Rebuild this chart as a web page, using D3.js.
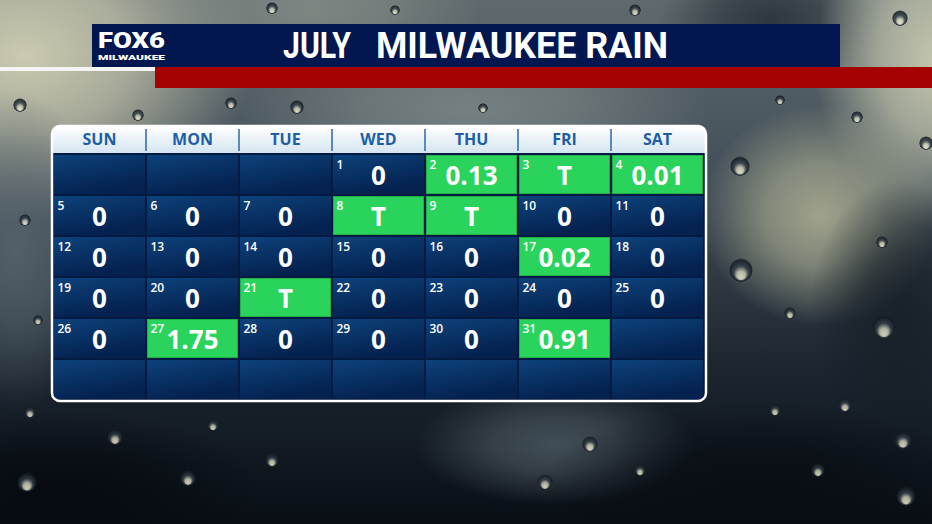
<!DOCTYPE html>
<html>
<head>
<meta charset="utf-8">
<script src="https://cdn.jsdelivr.net/npm/d3@7"></script>
<style>
  html, body { margin: 0; padding: 0; background: #1a232c; }
  svg { display: block; }
</style>
</head>
<body>
<svg id="chart" width="932" height="524"></svg>
<script>
// chart data
let monthName = "JULY";
let cityTitle = "MILWAUKEE RAIN";
let weekDays = ["SUN", "MON", "TUE", "WED", "THU", "FRI", "SAT"];
let firstWeekday = 3; // July 1 falls on WED
let weekRows = [0, 1, 2, 3, 4, 5];
let dayNumbers = d3.range(1, 32);
let rainValues = ["0", "0.13", "T", "0.01", "0", "0", "0", "T", "T", "0",
                  "0", "0", "0", "0", "0", "0", "0.02", "0", "0", "0",
                  "T", "0", "0", "0", "0", "0", "1.75", "0", "0", "0", "0.91"];

let width = 932;
let height = 524;
let navyColor = "#02174f";
let redColor = "#a50303";
let greenColor = "#2ad35b";
let headerTextColor = "#1d5ea6";
let font = "'Open Sans', 'DejaVu Sans', sans-serif";

let svg = d3.select("#chart");
let defs = svg.append("defs");

// ---- background (blurred rainy window) ----
let bgGrad = defs.append("linearGradient").attr("id", "bgGrad")
  .attr("x1", 0).attr("y1", 0).attr("x2", 0).attr("y2", 1);
bgGrad.append("stop").attr("offset", "0%").attr("stop-color", "#5f6a6e");
bgGrad.append("stop").attr("offset", "35%").attr("stop-color", "#424e58");
bgGrad.append("stop").attr("offset", "70%").attr("stop-color", "#1c2630");
bgGrad.append("stop").attr("offset", "100%").attr("stop-color", "#090e15");

svg.append("rect")
  .attr("width", width).attr("height", height)
  .style("fill", "url(#bgGrad)");

let blobs = [
  {cx: 25, cy: 55, rx: 230, ry: 170, c: "#cbcab0", o: 1},
  {cx: 310, cy: 10, rx: 170, ry: 80, c: "#8c938b", o: 0.7},
  {cx: 470, cy: 110, rx: 240, ry: 90, c: "#86918f", o: 0.7},
  {cx: 770, cy: 20, rx: 110, ry: 70, c: "#232b33", o: 0.8},
  {cx: 935, cy: 60, rx: 120, ry: 170, c: "#c3c5ad", o: 1},
  {cx: 820, cy: 215, rx: 120, ry: 110, c: "#a5a88f", o: 0.95},
  {cx: 900, cy: 310, rx: 90, ry: 130, c: "#151d25", o: 0.8},
  {cx: 15, cy: 250, rx: 90, ry: 160, c: "#5a6870", o: 0.8},
  {cx: 555, cy: 445, rx: 140, ry: 60, c: "#4e5b64", o: 0.8},
  {cx: 60, cy: 490, rx: 200, ry: 80, c: "#05090e", o: 0.8},
  {cx: 760, cy: 490, rx: 220, ry: 90, c: "#080c12", o: 0.8}
];

let blobGrads = defs.selectAll(".blobGrad")
  .data(blobs)
  .enter()
  .append("radialGradient")
    .attr("id", (d, i) => "blob" + i);
blobGrads.append("stop").attr("offset", "0%")
  .attr("stop-color", d => d.c).attr("stop-opacity", d => d.o);
blobGrads.append("stop").attr("offset", "45%")
  .attr("stop-color", d => d.c).attr("stop-opacity", d => d.o * 0.7);
blobGrads.append("stop").attr("offset", "100%")
  .attr("stop-color", d => d.c).attr("stop-opacity", 0);

svg.append("g")
  .selectAll("ellipse")
  .data(blobs)
  .enter()
  .append("ellipse")
    .attr("cx", d => d.cx).attr("cy", d => d.cy)
    .attr("rx", d => d.rx).attr("ry", d => d.ry)
    .style("fill", (d, i) => "url(#blob" + i + ")");

// a few rain drops on the glass
let dropGrad = defs.append("radialGradient").attr("id", "dropGrad")
  .attr("cx", 0.5).attr("cy", 0.5).attr("r", 0.5)
  .attr("fx", 0.5).attr("fy", 0.85);
dropGrad.append("stop").attr("offset", "0%").attr("stop-color", "#f3f1d6");
dropGrad.append("stop").attr("offset", "35%").attr("stop-color", "#c9c9b2");
dropGrad.append("stop").attr("offset", "60%").attr("stop-color", "#35404a");
dropGrad.append("stop").attr("offset", "90%").attr("stop-color", "#141b22");
dropGrad.append("stop").attr("offset", "100%").attr("stop-color", "#141b22").attr("stop-opacity", 0);

let drops = [
  {x: 740, y: 166, r: 10}, {x: 741, y: 270, r: 12}, {x: 884, y: 327, r: 12},
  {x: 790, y: 313, r: 6}, {x: 900, y: 18, r: 8}, {x: 926, y: 143, r: 7},
  {x: 857, y: 117, r: 6}, {x: 882, y: 242, r: 6}, {x: 903, y: 440, r: 9},
  {x: 906, y: 496, r: 10}, {x: 818, y: 470, r: 7}, {x: 775, y: 410, r: 6},
  {x: 845, y: 405, r: 7}, {x: 27, y: 482, r: 10}, {x: 115, y: 437, r: 8},
  {x: 188, y: 478, r: 8}, {x: 272, y: 460, r: 7}, {x: 213, y: 425, r: 6},
  {x: 590, y: 444, r: 8}, {x: 545, y: 482, r: 8},
  {x: 640, y: 470, r: 6}, {x: 30, y: 412, r: 6}, {x: 20, y: 105, r: 7},
  {x: 72, y: 145, r: 6}, {x: 297, y: 107, r: 7}, {x: 231, y: 103, r: 6},
  {x: 138, y: 115, r: 6}, {x: 483, y: 108, r: 5}, {x: 272, y: 8, r: 6},
  {x: 635, y: 10, r: 6}, {x: 395, y: 10, r: 5}, {x: 780, y: 100, r: 5},
  {x: 25, y: 220, r: 6}, {x: 38, y: 320, r: 5}, {x: 820, y: 30, r: 6}
];
svg.append("g")
  .selectAll("circle")
  .data(drops)
  .enter()
  .append("circle")
    .attr("cx", d => d.x).attr("cy", d => d.y).attr("r", d => d.r)
    .style("fill", "url(#dropGrad)")
    .style("opacity", 0.85);

// ---- title bar ----
svg.append("rect")
  .attr("x", 0).attr("y", 67).attr("width", 156).attr("height", 4)
  .style("fill", "#f4f4f4");
svg.append("rect")
  .attr("x", 155).attr("y", 67).attr("width", width - 155).attr("height", 21)
  .style("fill", redColor);
svg.append("rect")
  .attr("x", 92).attr("y", 24).attr("width", 748).attr("height", 43)
  .style("fill", navyColor);

// logo
svg.append("text")
  .attr("x", 98).attr("y", 48)
  .attr("textLength", 67).attr("lengthAdjust", "spacingAndGlyphs")
  .text("FOX6")
  .style("font-family", "Roboto, sans-serif")
  .style("font-weight", "900")
  .style("font-size", "22px")
  .style("fill", "white");
svg.append("text")
  .attr("x", 98).attr("y", 59.5)
  .attr("textLength", 67).attr("lengthAdjust", "spacingAndGlyphs")
  .text("MILWAUKEE")
  .style("font-family", "Roboto, sans-serif")
  .style("font-weight", "900")
  .style("font-size", "6.5px")
  .style("fill", "white");

// headline
svg.append("text")
  .attr("x", 283).attr("y", 58)
  .attr("textLength", 68).attr("lengthAdjust", "spacingAndGlyphs")
  .text(monthName)
  .style("font-family", "Roboto, sans-serif")
  .style("font-weight", "700")
  .style("font-size", "36px")
  .style("fill", "white");
svg.append("text")
  .attr("x", 376).attr("y", 58)
  .attr("textLength", 292).attr("lengthAdjust", "spacingAndGlyphs")
  .text(cityTitle)
  .style("font-family", "Roboto, sans-serif")
  .style("font-weight", "700")
  .style("font-size", "36px")
  .style("fill", "white");

// ---- calendar panel ----
let xScale = d3.scaleBand()
  .domain(weekDays)
  .range([54, 703])
  .paddingInner(2 / 93)
  .paddingOuter(0);

let yScale = d3.scaleBand()
  .domain(weekRows)
  .range([155, 399])
  .paddingInner(2 / 41)
  .paddingOuter(0);

let panel = {x: 52, y: 126, w: 654, h: 275};

defs.append("clipPath").attr("id", "panelClip")
  .append("rect")
    .attr("x", panel.x).attr("y", panel.y)
    .attr("width", panel.w).attr("height", panel.h)
    .attr("rx", 8);

let headGrad = defs.append("linearGradient").attr("id", "headGrad")
  .attr("x1", 0).attr("y1", 0).attr("x2", 0).attr("y2", 1);
headGrad.append("stop").attr("offset", "0%").attr("stop-color", "#ffffff");
headGrad.append("stop").attr("offset", "100%").attr("stop-color", "#d5e5f1");

let cellGrad = defs.append("linearGradient").attr("id", "cellGrad")
  .attr("x1", 0).attr("y1", 0).attr("x2", 0.4).attr("y2", 1);
cellGrad.append("stop").attr("offset", "0%").attr("stop-color", "#0d427b");
cellGrad.append("stop").attr("offset", "100%").attr("stop-color", "#04214f");

let panelG = svg.append("g").attr("clip-path", "url(#panelClip)");

panelG.append("rect")
  .attr("x", panel.x).attr("y", panel.y)
  .attr("width", panel.w).attr("height", panel.h)
  .style("fill", "#031a42");

panelG.append("rect")
  .attr("x", panel.x).attr("y", panel.y)
  .attr("width", panel.w).attr("height", 27)
  .style("fill", "url(#headGrad)");

// header dividers
panelG.selectAll(".headDivider")
  .data(weekDays.slice(1))
  .enter()
  .append("line")
    .attr("x1", d => xScale(d) - 1)
    .attr("x2", d => xScale(d) - 1)
    .attr("y1", 129)
    .attr("y2", 151)
    .style("stroke", "#2a67ad")
    .style("stroke-width", "1.5px");

// header labels
panelG.selectAll(".headLabel")
  .data(weekDays)
  .enter()
  .append("text")
    .attr("x", d => xScale(d) + xScale.bandwidth() / 2)
    .attr("y", 145)
    .text(d => d)
    .style("text-anchor", "middle")
    .style("font-family", font)
    .style("font-weight", "700")
    .style("font-size", "16px")
    .style("fill", headerTextColor);

// every grid cell (including empty ones)
let allCells = [];
weekRows.forEach(r => weekDays.forEach(wd => allCells.push({row: r, col: wd})));

panelG.selectAll(".cell")
  .data(allCells)
  .enter()
  .append("rect")
    .attr("x", d => xScale(d.col))
    .attr("y", d => yScale(d.row))
    .attr("width", xScale.bandwidth())
    .attr("height", yScale.bandwidth())
    .style("fill", "url(#cellGrad)");

// the days of the month
let days = dayNumbers.map((n, i) => {
  let slot = firstWeekday + i;
  return {day: n, value: rainValues[i], col: weekDays[slot % 7], row: Math.floor(slot / 7)};
});

panelG.selectAll(".wetCell")
  .data(days.filter(d => d.value !== "0"))
  .enter()
  .append("rect")
    .attr("x", d => xScale(d.col) + 0.5)
    .attr("y", d => yScale(d.row) + 0.5)
    .attr("width", xScale.bandwidth() - 1)
    .attr("height", yScale.bandwidth() - 1)
    .style("fill", greenColor)
    .style("stroke", "#1fae48")
    .style("stroke-width", "1px");

panelG.selectAll(".dayNum")
  .data(days)
  .enter()
  .append("text")
    .attr("x", d => xScale(d.col) + 3.5)
    .attr("y", d => yScale(d.row) + 14)
    .text(d => d.day)
    .style("font-family", font)
    .style("font-weight", "600")
    .style("font-size", "12px")
    .style("fill", "white");

panelG.selectAll(".dayValue")
  .data(days)
  .enter()
  .append("text")
    .attr("x", d => xScale(d.col) + xScale.bandwidth() / 2)
    .attr("y", d => yScale(d.row) + 30)
    .text(d => d.value)
    .style("text-anchor", "middle")
    .style("font-family", font)
    .style("font-weight", "700")
    .style("font-size", "26px")
    .style("fill", "white");

// panel border
svg.append("rect")
  .attr("x", panel.x).attr("y", panel.y)
  .attr("width", panel.w).attr("height", panel.h)
  .attr("rx", 8)
  .style("fill", "none")
  .style("stroke", "white")
  .style("stroke-width", "2.5px");
</script>
</body>
</html>
